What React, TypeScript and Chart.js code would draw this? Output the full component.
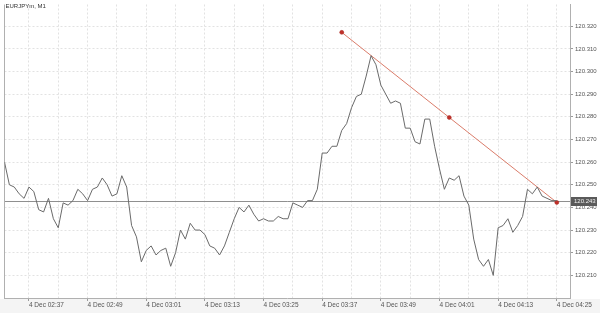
import React, { useEffect, useRef } from 'react';
import { Chart, registerables } from 'chart.js';
Chart.register(...registerables);

const symbolTitle = 'EURJPYm, M1';

// one close price per minute, 02:32 .. 04:25 on 4 Dec
const prices = [
  120.260, 120.250, 120.249, 120.246, 120.244, 120.249, 120.247, 120.239, 120.238, 120.244,
  120.235, 120.231, 120.242, 120.241, 120.243, 120.248, 120.246, 120.243, 120.248, 120.249,
  120.253, 120.250, 120.245, 120.246, 120.254, 120.249, 120.232, 120.227, 120.216, 120.221,
  120.223, 120.219, 120.221, 120.222, 120.214, 120.220, 120.230, 120.226, 120.233, 120.230,
  120.230, 120.228, 120.223, 120.222, 120.219, 120.223, 120.229, 120.235, 120.240, 120.238,
  120.241, 120.237, 120.234, 120.235, 120.234, 120.234, 120.236, 120.235, 120.235, 120.242,
  120.241, 120.240, 120.243, 120.243, 120.248, 120.264, 120.264, 120.267, 120.267, 120.274,
  120.277, 120.284, 120.289, 120.290, 120.298, 120.307, 120.303, 120.294, 120.290, 120.286,
  120.287, 120.286, 120.275, 120.275, 120.269, 120.268, 120.279, 120.279, 120.267, 120.257,
  120.248, 120.253, 120.252, 120.254, 120.245, 120.241, 120.226, 120.217, 120.214, 120.217,
  120.210, 120.231, 120.232, 120.235, 120.229, 120.232, 120.236, 120.248, 120.246, 120.249,
  120.245, 120.244, 120.243, 120.243,
];

const currentPrice = 120.243;

// trend line (minute index, price)
const trendX = [69, 91, 113];
const trendY = [120.3173, 120.2797, 120.2422];

// x grid positions (minutes from 02:32) and their labels
const xTickMinutes = [5, 11, 17, 23, 29, 35, 41, 47, 53, 59, 65, 71, 77, 83, 89, 95, 101, 107, 113];
const xTickLabels = [
  '4 Dec 02:37', '', '4 Dec 02:49', '', '4 Dec 03:01', '', '4 Dec 03:13', '', '4 Dec 03:25', '',
  '4 Dec 03:37', '', '4 Dec 03:49', '', '4 Dec 04:01', '', '4 Dec 04:13', '', '4 Dec 04:25',
];
const xMin = 0;
const xMax = 115.7;

const yTickValues = [120.21, 120.22, 120.23, 120.24, 120.25, 120.26, 120.27, 120.28, 120.29, 120.30, 120.31, 120.32];
const yMin = 120.2;
const yMax = 120.3296;

const FONT = "'Liberation Sans', Arial, sans-serif";

export default function App() {
  const ref = useRef<HTMLCanvasElement>(null);

  useEffect(() => {
    document.body.style.margin = '0';
    const canvas = ref.current!;

    const bgPlugin = {
      id: 'bg',
      beforeDraw(chart: any) {
        const { ctx, chartArea } = chart;
        ctx.save();
        ctx.fillStyle = '#ffffff';
        ctx.fillRect(0, 0, chart.width, chart.height);
        ctx.fillStyle = '#f4f4f4';
        ctx.fillRect(0, chartArea.bottom + 1, chart.width, chart.height - chartArea.bottom);
        ctx.restore();
      },
      beforeDatasetsDraw(chart: any) {
        const { ctx, chartArea, scales } = chart;
        const y = Math.round(scales.y.getPixelForValue(currentPrice)) + 0.5;
        ctx.save();
        ctx.strokeStyle = '#8f8f8f';
        ctx.lineWidth = 1;
        ctx.beginPath();
        ctx.moveTo(chartArea.left, y);
        ctx.lineTo(chartArea.right, y);
        ctx.stroke();
        // left border
        ctx.strokeStyle = '#b0b0b0';
        ctx.beginPath();
        ctx.moveTo(Math.round(chartArea.left) - 0.5, chartArea.top);
        ctx.lineTo(Math.round(chartArea.left) - 0.5, chartArea.bottom);
        ctx.stroke();
        ctx.restore();
      },
      afterDraw(chart: any) {
        const { ctx, chartArea, scales } = chart;
        const y = Math.round(scales.y.getPixelForValue(currentPrice));
        ctx.save();
        ctx.fillStyle = '#5a5a5a';
        ctx.fillRect(chartArea.right + 1, y - 4, 26, 9);
        ctx.fillStyle = '#f0f0f0';
        ctx.font = `6px ${FONT}`;
        ctx.textBaseline = 'middle';
        ctx.textAlign = 'left';
        ctx.fillText(currentPrice.toFixed(3), chartArea.right + 4, y + 0.5);
        ctx.fillStyle = '#333333';
        ctx.textBaseline = 'top';
        ctx.fillText(symbolTitle, chartArea.left + 1, 3);
        ctx.restore();
      },
    };

    const chart = new Chart(canvas, {
      type: 'line',
      data: {
        datasets: [
          {
            data: prices.map((p, i) => ({ x: i, y: p })),
            borderColor: '#6a6a6a',
            borderWidth: 1,
            pointRadius: 0,
            tension: 0,
            fill: false,
          },
          {
            data: trendX.map((x, i) => ({ x, y: trendY[i] })),
            borderColor: 'rgba(214,110,90,0.9)',
            borderWidth: 1,
            pointRadius: 2,
            pointBackgroundColor: '#c0302a',
            pointBorderColor: '#a82820',
            pointBorderWidth: 0.5,
            tension: 0,
            fill: false,
          },
        ],
      },
      options: {
        animation: false,
        responsive: false,
        maintainAspectRatio: false,
        layout: { padding: { left: 3, right: 0, top: 0, bottom: 0 } },
        plugins: { legend: { display: false }, tooltip: { enabled: false }, title: { display: false } },
        scales: {
          x: {
            type: 'linear',
            min: xMin,
            max: xMax,
            afterBuildTicks(scale: any) {
              scale.ticks = xTickMinutes.map((v) => ({ value: v }));
            },
            afterFit(scale: any) {
              scale.height = 15;
              scale.paddingLeft = 0;
              scale.paddingRight = 0;
            },
            ticks: {
              autoSkip: false,
              maxRotation: 0,
              minRotation: 0,
              align: 'start',
              padding: 0,
              color: '#555555',
              font: { family: FONT, size: 6.5 },
              callback: (_v: any, idx: number) => xTickLabels[idx],
            },
            grid: {
              color: '#e2e2e2',
              lineWidth: 1,
              tickLength: 3,
              tickColor: (ctx: any) => (xTickLabels[ctx.index] ? '#9a9a9a' : 'rgba(0,0,0,0)'),
            },
            border: { display: true, color: '#b0b0b0', width: 1, dash: [2, 2] },
          },
          y: {
            type: 'linear',
            position: 'right',
            min: yMin,
            max: yMax,
            afterBuildTicks(scale: any) {
              scale.ticks = yTickValues.map((v) => ({ value: v }));
            },
            afterFit(scale: any) {
              scale.width = 30;
              scale.paddingTop = 0;
              scale.paddingBottom = 0;
            },
            ticks: {
              padding: 2,
              color: '#555555',
              font: { family: FONT, size: 6 },
              callback: (v: any) => Number(v).toFixed(3),
            },
            grid: {
              color: '#e2e2e2',
              lineWidth: 1,
              tickLength: 3,
              tickColor: '#9a9a9a',
            },
            border: { display: true, color: '#b0b0b0', width: 1, dash: [2, 2] },
          },
        },
      },
      plugins: [bgPlugin],
    } as any);

    return () => chart.destroy();
  }, []);

  return (
    <div style={{ width: 600, height: 313 }}>
      <canvas ref={ref} width={600} height={313} style={{ display: 'block', width: 600, height: 313 }} />
    </div>
  );
}
